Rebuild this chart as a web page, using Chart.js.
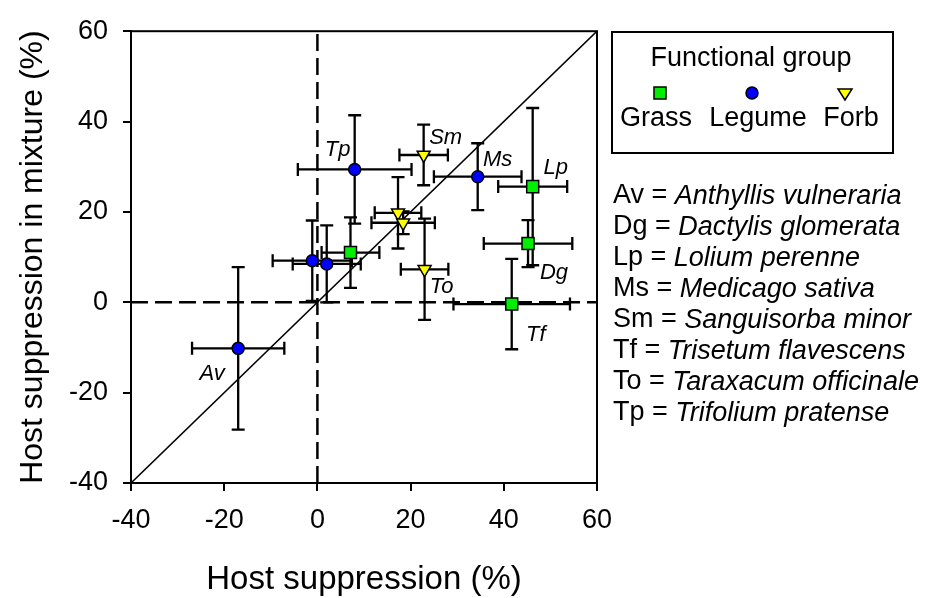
<!DOCTYPE html>
<html><head><meta charset="utf-8">
<script src="https://cdn.jsdelivr.net/npm/chart.js@4.4.0/dist/chart.umd.min.js"></script>
<style>html,body{margin:0;padding:0;background:#fff;} #wrap{width:932px;height:598px;position:relative;}</style>
</head><body><div id="wrap"><canvas id="c" width="932" height="598"></canvas></div>
<script>
// ---------- DATA ----------
const xTicks = [-40, -20, 0, 20, 40, 60];
const yTicks = [-40, -20, 0, 20, 40, 60];
const groupNames = ['Grass', 'Legume', 'Forb'];
const legendTitle = 'Functional group';
const xTitle = 'Host suppression (%)';
const yTitle = 'Host suppression in mixture (%)';

const grassCodes = ['Lp', 'Dg', 'Tf', ''];
const grassX     = [46.2, 45.2, 41.7, 7.1];
const grassY     = [25.6, 13.0, -0.4, 11.0];
const grassXErr  = [7.4, 9.5, 12.5, 6.2];
const grassYErr  = [17.4, 5.2, 10.0, 7.8];

const legumeCodes = ['Tp', 'Ms', 'Av', '', ''];
const legumeX     = [8.0, 34.4, -17.0, -1.1, 2.0];
const legumeY     = [29.4, 27.8, -10.2, 9.2, 8.5];
const legumeXErr  = [12.2, 9.4, 9.9, 8.5, 7.3];
const legumeYErr  = [12.0, 7.4, 18.0, 8.9, 8.5];

const forbCodes = ['Sm', 'To', '', ''];
const forbX     = [22.8, 23.0, 17.3, 18.4];
const forbY     = [32.6, 7.3, 19.8, 17.6];
const forbXErr  = [5.2, 5.1, 5.0, 6.8];
const forbYErr  = [6.7, 11.2, 7.9, 2.5];

const speciesCodes = ['Av', 'Dg', 'Lp', 'Ms', 'Sm', 'Tf', 'To', 'Tp'];
const speciesNames = ['Anthyllis vulneraria', 'Dactylis glomerata', 'Lolium perenne', 'Medicago sativa',
  'Sanguisorba minor', 'Trisetum flavescens', 'Taraxacum officinale', 'Trifolium pratense'];

// ---------- STYLE ----------
const FAM = '"Liberation Sans", Arial, sans-serif';
const labelOffsets = { Tp: [-17, -20], Sm: [22, -17], Ms: [20, -17], Lp: [23, -19],
  Dg: [26, 29], To: [17, 18], Tf: [24, 31], Av: [-26, 26] };
const colors = { Grass: '#00ee00', Legume: '#0000ff', Forb: '#ffff00' };

function pts(xs, ys, xe, ye, codes) {
  return xs.map((x, i) => ({ x, y: ys[i], xErr: xe[i], yErr: ye[i], code: codes[i] }));
}

const errorBarPlugin = {
  id: 'errbars',
  beforeDraw(chart) { chart.$errDone = false; },
  beforeDatasetDraw(chart, args) {
    if (chart.$errDone || args.meta.type !== 'scatter') return;
    chart.$errDone = true;
    const ctx = chart.ctx, xs = chart.scales.x, ys = chart.scales.y;
    const cap = 6.5;
    ctx.save();
    ctx.strokeStyle = '#000'; ctx.lineWidth = 2.3; ctx.lineCap = 'butt';
    chart.data.datasets.forEach(ds => {
      if (ds.type !== 'scatter') return;
      ds.data.forEach(p => {
        const px = xs.getPixelForValue(p.x), py = ys.getPixelForValue(p.y);
        const x1 = xs.getPixelForValue(p.x - p.xErr), x2 = xs.getPixelForValue(p.x + p.xErr);
        const y1 = ys.getPixelForValue(p.y - p.yErr), y2 = ys.getPixelForValue(p.y + p.yErr);
        ctx.beginPath();
        ctx.moveTo(x1, py); ctx.lineTo(x2, py);
        ctx.moveTo(x1, py - cap); ctx.lineTo(x1, py + cap);
        ctx.moveTo(x2, py - cap); ctx.lineTo(x2, py + cap);
        ctx.moveTo(px, y1); ctx.lineTo(px, y2);
        ctx.moveTo(px - cap, y1); ctx.lineTo(px + cap, y1);
        ctx.moveTo(px - cap, y2); ctx.lineTo(px + cap, y2);
        ctx.stroke();
      });
    });
    ctx.restore();
  },
  afterDatasetsDraw(chart) {
    const ctx = chart.ctx, xs = chart.scales.x, ys = chart.scales.y, a = chart.chartArea;
    ctx.save();
    ctx.strokeStyle = '#000'; ctx.lineWidth = 2;
    ctx.strokeRect(a.left, a.top, a.right - a.left, a.bottom - a.top);
    ctx.fillStyle = '#000';
    ctx.font = 'italic 22px ' + FAM;
    ctx.textAlign = 'center'; ctx.textBaseline = 'middle';
    chart.data.datasets.forEach(ds => {
      if (ds.type !== 'scatter') return;
      ds.data.forEach(p => {
        if (!p.code) return;
        const o = labelOffsets[p.code];
        ctx.fillText(p.code, xs.getPixelForValue(p.x) + o[0], ys.getPixelForValue(p.y) + o[1]);
      });
    });
    ctx.restore();
  },
  afterDraw(chart) {
    const ctx = chart.ctx;
    ctx.save();
    ctx.strokeStyle = '#000'; ctx.lineWidth = 2;
    ctx.strokeRect(612, 32, 281, 121);
    ctx.fillStyle = '#000';
    ctx.font = '27px ' + FAM;
    ctx.textAlign = 'center'; ctx.textBaseline = 'middle';
    ctx.fillText(legendTitle, 751, 59);
    const mx = [660, 752, 845], lx = [656, 758, 851];
    groupNames.forEach((g, i) => {
      ctx.fillStyle = '#000';
      ctx.fillText(g, lx[i], 119);
      ctx.fillStyle = colors[g]; ctx.strokeStyle = '#000'; ctx.lineWidth = 1.5;
      const y = 93;
      ctx.beginPath();
      if (g === 'Grass') { ctx.rect(mx[i] - 6, y - 6, 12, 12); }
      else if (g === 'Legume') { ctx.arc(mx[i], y, 6, 0, Math.PI * 2); }
      else { ctx.moveTo(mx[i] - 7, y - 4); ctx.lineTo(mx[i] + 7, y - 4); ctx.lineTo(mx[i], y + 7); ctx.closePath(); }
      ctx.fill(); ctx.stroke();
    });
    ctx.textAlign = 'left'; ctx.fillStyle = '#000';
    speciesCodes.forEach((c, i) => {
      const y = 196 + i * 31;
      ctx.font = '27px ' + FAM;
      const pre = c + ' = ';
      ctx.fillText(pre, 613, y);
      const w = ctx.measureText(pre).width;
      ctx.font = 'italic 27px ' + FAM;
      ctx.fillText(speciesNames[i], 613 + w, y);
    });
    ctx.restore();
  }
};

const ptBase = { borderColor: '#000', borderWidth: 1.5 };
new Chart(document.getElementById('c'), {
  type: 'scatter',
  data: {
    datasets: [
      Object.assign({ type: 'scatter', label: groupNames[0], data: pts(grassX, grassY, grassXErr, grassYErr, grassCodes),
        pointStyle: 'rect', pointRadius: 8.5, backgroundColor: colors.Grass, order: 0 }, ptBase),
      Object.assign({ type: 'scatter', label: groupNames[1], data: pts(legumeX, legumeY, legumeXErr, legumeYErr, legumeCodes),
        pointStyle: 'circle', pointRadius: 6, backgroundColor: colors.Legume, order: 0 }, ptBase),
      Object.assign({ type: 'scatter', label: groupNames[2], data: pts(forbX, forbY, forbXErr, forbYErr, forbCodes),
        pointStyle: 'triangle', rotation: 180, pointRadius: 7.5, backgroundColor: colors.Forb, order: 0 }, ptBase),
      { type: 'line', label: 'x0', data: [{ x: 0, y: yTicks[0] }, { x: 0, y: yTicks[yTicks.length - 1] }],
        borderColor: '#000', borderWidth: 2.5, borderDash: [17, 7], pointRadius: 0, order: 5 },
      { type: 'line', label: 'y0', data: [{ x: xTicks[0], y: 0 }, { x: xTicks[xTicks.length - 1], y: 0 }],
        borderColor: '#000', borderWidth: 2.5, borderDash: [17, 7], pointRadius: 0, order: 5 },
      { type: 'line', label: '1:1', data: [{ x: xTicks[0], y: yTicks[0] }, { x: xTicks[xTicks.length - 1], y: yTicks[yTicks.length - 1] }],
        borderColor: '#000', borderWidth: 1.6, pointRadius: 0, order: 5 }
    ]
  },
  options: {
    responsive: false, animation: false,
    layout: { padding: { left: 0, top: 17, right: 335, bottom: 0 } },
    plugins: { legend: { display: false }, tooltip: { enabled: false } },
    scales: {
      x: {
        type: 'linear', min: xTicks[0], max: xTicks[xTicks.length - 1],
        afterBuildTicks: s => { s.ticks = xTicks.map(v => ({ value: v })); },
        afterFit: s => { s.height = 115; },
        ticks: { color: '#000', font: { family: FAM, size: 27 }, padding: 13, maxRotation: 0 },
        grid: { drawOnChartArea: false, drawTicks: true, tickLength: 8, color: '#000', lineWidth: 2 },
        border: { display: true, color: '#000', width: 2 },
        title: { display: true, text: xTitle, color: '#000', font: { family: FAM, size: 33, lineHeight: 1 }, padding: { top: 0, bottom: 2 } }
      },
      y: {
        type: 'linear', min: yTicks[0], max: yTicks[yTicks.length - 1],
        afterBuildTicks: s => { s.ticks = yTicks.map(v => ({ value: v })); },
        afterFit: s => { s.width = 131; },
        ticks: { color: '#000', font: { family: FAM, size: 27 }, padding: 15 },
        grid: { drawOnChartArea: false, drawTicks: true, tickLength: 8, color: '#000', lineWidth: 2 },
        border: { display: true, color: '#000', width: 2 },
        title: { display: true, text: yTitle, color: '#000', font: { family: FAM, size: 32, lineHeight: 1 }, padding: { top: 17, bottom: 0 } }
      }
    }
  },
  plugins: [errorBarPlugin]
});
</script></body></html>
